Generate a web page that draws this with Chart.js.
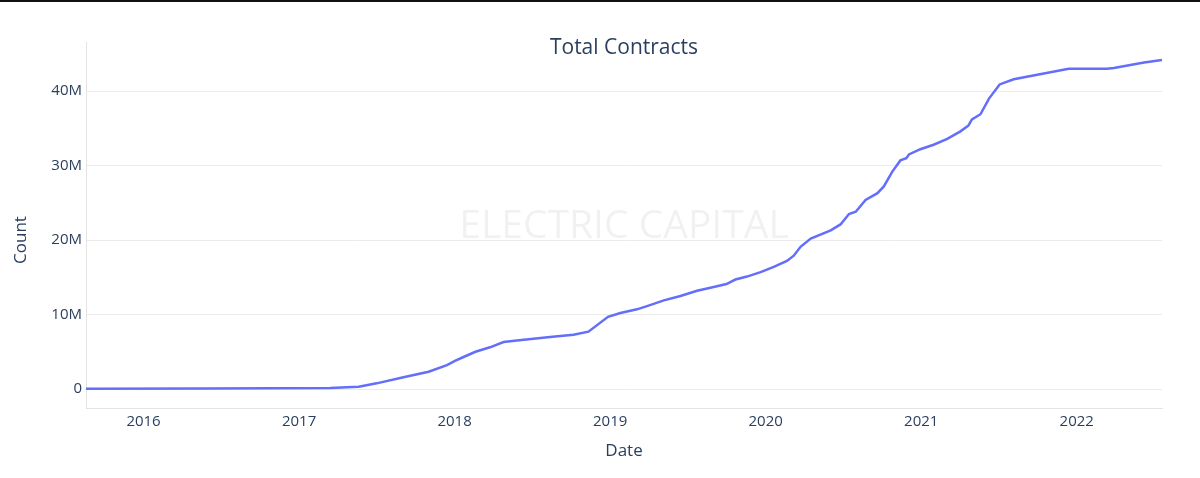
<!DOCTYPE html>
<html>
<head>
<meta charset="utf-8">
<script src="https://cdn.jsdelivr.net/npm/chart.js@4/dist/chart.umd.min.js"></script>
<style>
  html, body { margin: 0; padding: 0; background: #fff; }
  canvas { display: block; }
</style>
</head>
<body>
<canvas id="chart" width="1200" height="478"></canvas>
<script>
// data (counts in millions)
const dates = [
  '2015-08-19', '2016-06-01', '2017-03-15', '2017-05-21', '2017-07-02', '2017-09-03',
  '2017-11-01', '2017-12-14', '2018-01-03', '2018-01-22', '2018-02-19', '2018-03-25',
  '2018-04-26', '2018-05-27', '2018-08-13', '2018-10-07', '2018-11-11', '2018-12-27',
  '2019-01-25', '2019-03-05', '2019-04-01', '2019-05-07', '2019-06-15', '2019-07-24',
  '2019-09-01', '2019-10-01', '2019-10-22', '2019-11-18', '2019-12-20', '2020-01-20',
  '2020-02-20', '2020-03-07', '2020-03-23', '2020-04-16', '2020-06-02', '2020-06-25',
  '2020-07-15', '2020-07-31', '2020-08-23', '2020-09-20', '2020-10-05', '2020-10-25',
  '2020-11-13', '2020-11-27', '2020-12-03', '2020-12-30', '2021-01-30', '2021-03-03',
  '2021-04-03', '2021-04-22', '2021-04-30', '2021-05-20', '2021-06-09', '2021-07-04',
  '2021-08-06', '2021-12-13', '2022-03-13', '2022-03-29', '2022-06-08', '2022-07-20'
];
const contracts = [
  0.02, 0.08, 0.15, 0.3, 0.76, 1.57,
  2.32, 3.2, 3.8, 4.3, 5.0, 5.6,
  6.3, 6.5, 7.0, 7.3, 7.7, 9.7,
  10.2, 10.7, 11.2, 11.9, 12.5, 13.2,
  13.7, 14.1, 14.7, 15.1, 15.7, 16.4,
  17.2, 17.9, 19.1, 20.2, 21.3, 22.1,
  23.5, 23.8, 25.4, 26.3, 27.2, 29.2,
  30.7, 31.0, 31.5, 32.2, 32.8, 33.6,
  34.6, 35.4, 36.2, 36.9, 39.0, 40.9,
  41.6, 43.0, 43.0, 43.1, 43.85, 44.2
];
const yearTicks = [2016, 2017, 2018, 2019, 2020, 2021, 2022];
const countTicks = [0, 10, 20, 30, 40];

const toYear = s => {
  const d = new Date(s + 'T00:00:00Z');
  const y = d.getUTCFullYear();
  const start = Date.UTC(y, 0, 1), end = Date.UTC(y + 1, 0, 1);
  return y + (d - start) / (end - start);
};

const ink = '#2a3f5f';
const font = '"Open Sans", "Liberation Sans", Arial, sans-serif';

const decor = {
  id: 'decor',
  beforeDraw(chart) {
    const ctx = chart.ctx;
    ctx.save();
    ctx.fillStyle = '#111';
    ctx.fillRect(0, 0, chart.width, 2);
    ctx.restore();
  },
  beforeDatasetsDraw(chart) {
    const ctx = chart.ctx, a = chart.chartArea;
    ctx.save();
    ctx.fillStyle = 'rgba(0,0,0,0.055)';
    ctx.font = '39px ' + font;
    ctx.textAlign = 'center';
    ctx.textBaseline = 'middle';
    ctx.fillText('ELECTRIC CAPITAL', (a.left + a.right) / 2, 227);
    ctx.restore();
  },
  afterDraw(chart) {
    const ctx = chart.ctx, a = chart.chartArea;
    ctx.save();
    ctx.fillStyle = ink;
    ctx.textAlign = 'center';
    ctx.textBaseline = 'middle';
    ctx.font = '21px ' + font;
    ctx.fillText('Total Contracts', (a.left + a.right) / 2, 48);
    ctx.font = '17px ' + font;
    ctx.fillText('Date', (a.left + a.right) / 2, 451);
    ctx.translate(21, 240);
    ctx.rotate(-Math.PI / 2);
    ctx.fillText('Count', 0, 0);
    ctx.restore();
  }
};

new Chart(document.getElementById('chart'), {
  type: 'line',
  data: {
    datasets: [{
      label: 'Total Contracts',
      data: dates.map((d, i) => ({ x: toYear(d), y: contracts[i] })),
      borderColor: '#636efa',
      borderWidth: 2.5,
      pointRadius: 0,
      tension: 0,
      fill: false
    }]
  },
  options: {
    responsive: false,
    animation: false,
    layout: { padding: { top: 42, right: 38, left: 0, bottom: 0 } },
    plugins: { legend: { display: false }, tooltip: { enabled: false } },
    scales: {
      x: {
        type: 'linear',
        min: toYear('2015-08-19'),
        max: toYear('2022-07-20'),
        afterBuildTicks: s => { s.ticks = yearTicks.map(v => ({ value: v })); },
        afterFit: s => { s.height = 70; },
        grid: { display: false, drawTicks: false },
        border: { display: true, color: '#e3e3e3', width: 1 },
        ticks: {
          padding: 5,
          color: ink,
          font: { family: font, size: 15 },
          callback: v => String(v),
          maxRotation: 0
        }
      },
      y: {
        type: 'linear',
        min: -2.55,
        max: 46.6,
        afterBuildTicks: s => { s.ticks = countTicks.map(v => ({ value: v })); },
        afterFit: s => { s.width = 86; },
        grid: { color: '#ebebeb', lineWidth: 1, drawTicks: false },
        border: { display: true, color: '#e3e3e3', width: 1 },
        ticks: {
          padding: 4,
          color: ink,
          font: { family: font, size: 15 },
          callback: v => v === 0 ? '0' : v + 'M'
        }
      }
    }
  },
  plugins: [decor]
});
</script>
</body>
</html>
